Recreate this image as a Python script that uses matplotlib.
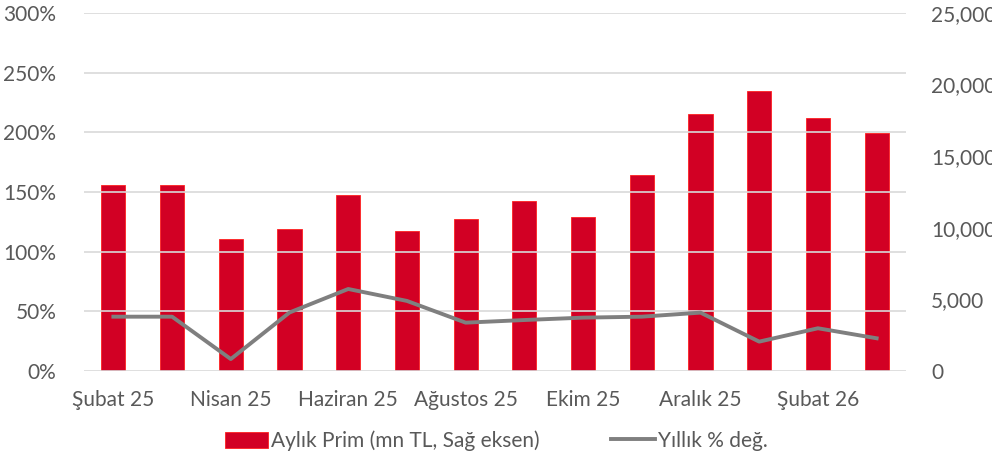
import matplotlib
matplotlib.use("Agg")
import matplotlib.pyplot as plt
from matplotlib.patches import Patch
from matplotlib.lines import Line2D
from matplotlib.ticker import FuncFormatter, MultipleLocator

months = ["Şubat 25", "Mart 25", "Nisan 25", "Mayıs 25", "Haziran 25", "Temmuz 25",
          "Ağustos 25", "Eylül 25", "Ekim 25", "Kasım 25", "Aralık 25", "Ocak 26",
          "Şubat 26", "Mart 26"]
monthly_premium = [13000, 13000, 9200, 9900, 12300, 9800, 10600, 11900, 10750,
                   13700, 17950, 19550, 17670, 16620]
yearly_change = [45.5, 45.5, 10, 49, 68.7, 58.7, 40.5, 42.7, 44.7, 45.5, 48.9,
                 24.6, 35.8, 27.4]
shown_labels = ["Şubat 25", "Nisan 25", "Haziran 25", "Ağustos 25", "Ekim 25",
                "Aralık 25", "Şubat 26"]

RED = "#D20024"
GRAY = "#7F7F7F"
TXT = "#595959"
GRID = "#D9D9D9"
FS = 15

plt.rcParams['font.family'] = ['Lato', 'DejaVu Sans']

fig = plt.figure(figsize=(9.92, 4.62), dpi=100)
ax = fig.add_axes([0.0847, 0.197, 0.8286, 0.775])
ax2 = ax.twinx()

x = list(range(len(months)))
ax2.bar(x, monthly_premium, width=0.41, color=RED, edgecolor="#FF2020", linewidth=0.6)
ax.plot(x, yearly_change, color=GRAY, linewidth=2.8, solid_joinstyle="round")

ax.set_zorder(ax2.get_zorder() + 1)
ax.patch.set_visible(False)

ax.set_xlim(-0.5, len(months) - 0.5)
ax.set_ylim(0, 300)
ax2.set_ylim(0, 25000)
ax.yaxis.set_major_locator(MultipleLocator(50))
ax2.yaxis.set_major_locator(MultipleLocator(5000))
ax.yaxis.set_major_formatter(FuncFormatter(lambda v, p: f"{int(v)}%"))
ax2.yaxis.set_major_formatter(FuncFormatter(lambda v, p: f"{int(v):,}"))

ax2.grid(False)
ax.grid(axis="y", color=GRID, linewidth=1.2)
ax.set_axisbelow(True)

tick_pos = [months.index(m) for m in shown_labels]
ax.set_xticks(tick_pos)
ax.set_xticklabels(shown_labels)

for a in (ax, ax2):
    for s in a.spines.values():
        s.set_visible(False)
    a.tick_params(length=0, colors=TXT, labelsize=FS)
ax.tick_params(axis="y", pad=20)
ax2.tick_params(axis="y", pad=18)
ax.tick_params(axis="x", pad=14)

handles = [Patch(facecolor=RED, edgecolor="#FF2020", linewidth=0.6),
           Line2D([0], [0], color=GRAY, linewidth=2.8)]
fig.legend(handles, ["Aylık Prim (mn TL, Sağ eksen)", "Yıllık % değ."],
           loc="center", bbox_to_anchor=(0.5, 0.046), ncol=2, frameon=False,
           fontsize=FS, labelcolor=TXT, columnspacing=3.4, handlelength=2.1,
           handletextpad=0.15, handleheight=0.8)

fig.savefig("out.png", dpi=100)
